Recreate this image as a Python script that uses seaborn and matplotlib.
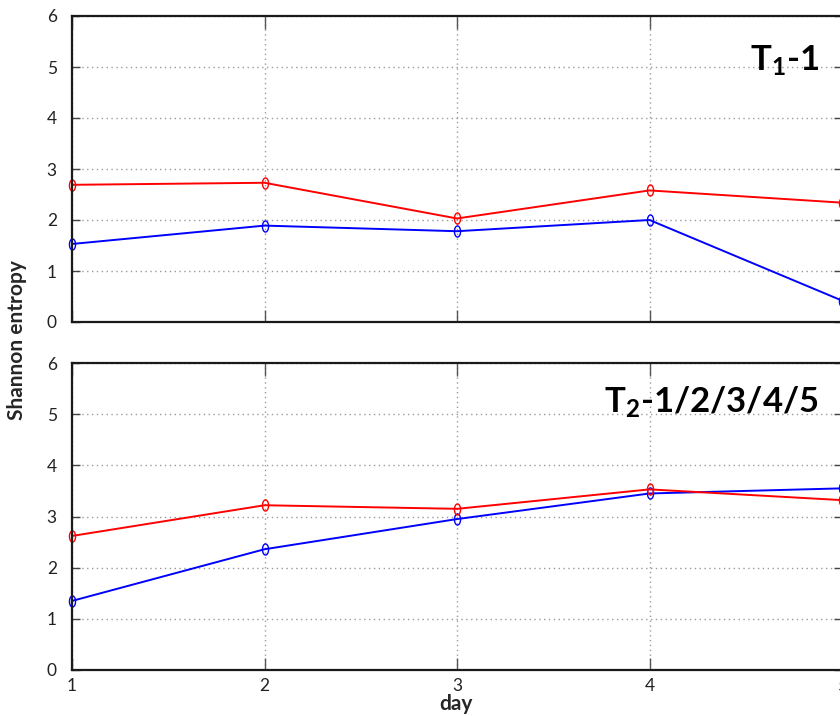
import matplotlib
matplotlib.use('Agg')
import numpy as np
import pandas as pd
import matplotlib.pyplot as plt
import seaborn as sns
from matplotlib.path import Path
from matplotlib.transforms import Affine2D

days = [1, 2, 3, 4, 5]
t1_red = [2.69, 2.73, 2.03, 2.58, 2.34]
t1_blue = [1.53, 1.89, 1.78, 2.00, 0.42]
t2_red = [2.62, 3.22, 3.15, 3.53, 3.32]
t2_blue = [1.35, 2.36, 2.95, 3.45, 3.55]
yticks = [0, 1, 2, 3, 4, 5, 6]
panel_labels = [r'T$_1$-1', r'T$_2$-1/2/3/4/5']

sns.set_style('white')
FONT = 'Lato'
plt.rcParams['font.family'] = [FONT, 'DejaVu Sans']
plt.rcParams['mathtext.fontset'] = 'custom'
plt.rcParams['mathtext.rm'] = FONT + ':bold'
plt.rcParams['mathtext.it'] = FONT + ':bold'
plt.rcParams['mathtext.bf'] = FONT + ':bold'

fig = plt.figure(figsize=(8.4, 7.16), dpi=100)
W, H = 840, 716
def rect(l, r, t, b):
    return [l / W, 1 - b / H, (r - l) / W, (b - t) / H]

ax1 = fig.add_axes(rect(72, 842, 16, 322))
ax2 = fig.add_axes(rect(72, 842, 363, 670))

marker = Path.unit_circle().transformed(Affine2D().scale(0.55, 1.0))

panels = [(ax1, t1_blue, t1_red), (ax2, t2_blue, t2_red)]
for i, (ax, blue, red) in enumerate(panels):
    df = pd.DataFrame({'day': days * 2,
                       'H': blue + red,
                       'series': ['blue'] * 5 + ['red'] * 5})
    ax.grid(True, linestyle=(0, (1, 2.5)), color='#9a9a9a', linewidth=1.0)
    ax.set_axisbelow(True)
    sns.lineplot(data=df, x='day', y='H', hue='series',
                 palette={'blue': '#0000ff', 'red': '#ff0000'},
                 marker=marker, markersize=8, markerfacecolor='none',
                 markeredgewidth=1.0, linewidth=1.4, legend=False, ax=ax,
                 clip_on=False)
    for line in ax.lines:
        line.set_markeredgecolor(line.get_color())
    ax.set_xlim(1, 5)
    ax.set_ylim(0, 6)
    ax.set_xticks(days)
    ax.set_yticks(yticks)
    ax.set_xlabel('')
    ax.set_ylabel('')
    for s in ax.spines.values():
        s.set_color('#1a1a1a')
        s.set_linewidth(1.6)
    ax.tick_params(axis='x', direction='in', top=True, bottom=True,
                   length=9, width=1.0, color='#555555', labelsize=12.5,
                   pad=6, labelcolor='#222222')
    ax.tick_params(axis='y', direction='in', left=True, right=True,
                   length=6, width=1.0, color='#444444', labelsize=12.5,
                   pad=11, labelcolor='#222222')
    ax.text(0.970, 0.823 if i == 0 else 0.840, panel_labels[i],
            transform=ax.transAxes, ha='right', va='baseline',
            fontsize=25, fontweight='bold', color='black')

ax1.set_xticklabels([])

fig.text(17 / W, 1 - 340 / H, 'Shannon entropy', rotation=90,
         ha='center', va='center', fontsize=15, fontweight='bold')
fig.text(456 / W, 1 - 704 / H, 'day', ha='center', va='center',
         fontsize=15, fontweight='bold')

fig.savefig('out.png', dpi=100)
